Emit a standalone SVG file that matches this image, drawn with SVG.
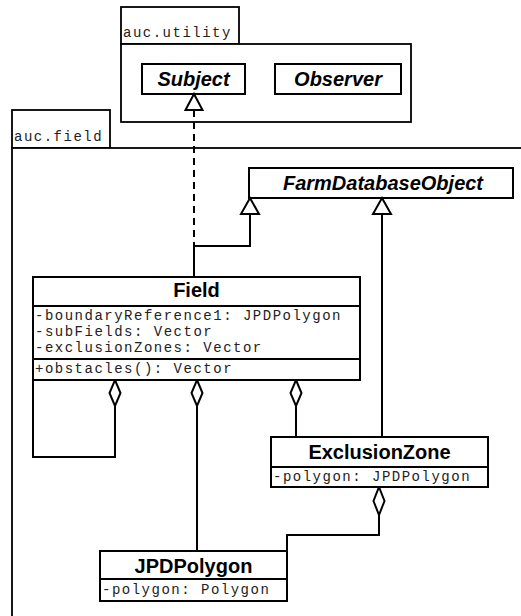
<svg xmlns="http://www.w3.org/2000/svg" width="521" height="616" viewBox="0 0 521 616">
<style>
.box{fill:#fff;stroke:#000;stroke-width:2}
.pkg{fill:#fff;stroke:#000;stroke-width:1.8}
.ln{fill:none;stroke:#000;stroke-width:2}
.dash{fill:none;stroke:#000;stroke-width:2;stroke-dasharray:7 5}
.head{fill:#fff;stroke:#000;stroke-width:2;stroke-linejoin:miter}
.mono{font-family:"Liberation Mono","Courier New",monospace;font-size:14px;letter-spacing:1.5px;fill:#222}
.name{font-family:"Liberation Sans",Arial,sans-serif;font-size:20px;font-weight:bold;fill:#000;text-anchor:middle}
.abs{font-style:italic}
</style>
<rect width="521" height="616" fill="#fff"/>
<g id="pkg-utility">
<rect class="pkg" x="121" y="7" width="118" height="37"/>
<rect class="pkg" x="121" y="44" width="290" height="78"/>
<text class="mono" x="123" y="37">auc.utility</text>
</g>
<g id="pkg-field">
<rect class="pkg" x="12" y="110" width="98" height="38"/>
<rect class="pkg" x="12" y="148" width="520" height="480"/>
<text class="mono" x="14" y="141">auc.field</text>
</g>
<g id="Subject">
<rect class="box" x="142" y="64" width="103" height="30"/>
<text class="name abs" x="193.5" y="86">Subject</text>
</g>
<g id="Observer">
<rect class="box" x="275" y="64" width="126" height="30"/>
<text class="name abs" x="338" y="86">Observer</text>
</g>
<g id="FarmDatabaseObject">
<rect class="box" x="249" y="168" width="264" height="30"/>
<text class="name abs" x="383" y="190">FarmDatabaseObject</text>
</g>
<g id="connectors">
<path class="dash" d="M194,110 V246"/>
<path class="ln" d="M250,214 V246 H194 V277"/>
<path class="ln" d="M382,214 V437"/>
<path class="ln" d="M115,406 V457 H33 V380"/>
<path class="ln" d="M197,406 V551"/>
<path class="ln" d="M296,406 V437"/>
<path class="ln" d="M379,515 V535 H287 V551"/>
<polygon class="head" points="194,94 202.5,110 185.5,110"/>
<polygon class="head" points="250,198 259,214 241,214"/>
<polygon class="head" points="382,198 391,214 373,214"/>
<polygon class="head" points="115,380 120.5,393 115,406 109.5,393"/>
<polygon class="head" points="197,380 202.5,393 197,406 191.5,393"/>
<polygon class="head" points="296,380 301.5,393 296,406 290.5,393"/>
<polygon class="head" points="379,487 384.5,501 379,515 373.5,501"/>
</g>
<g id="Field">
<rect class="box" x="33" y="277" width="327" height="103"/>
<path class="ln" d="M33,306 H360 M33,359 H360"/>
<text class="name" x="196.5" y="297">Field</text>
<text class="mono" x="35" y="320">-boundaryReference1: JPDPolygon</text>
<text class="mono" x="35" y="336">-subFields: Vector</text>
<text class="mono" x="35" y="352">-exclusionZones: Vector</text>
<text class="mono" x="35" y="373">+obstacles(): Vector</text>
</g>
<g id="ExclusionZone">
<rect class="box" x="271" y="437" width="217" height="50"/>
<path class="ln" d="M271,467 H488"/>
<text class="name" x="379.5" y="459">ExclusionZone</text>
<text class="mono" x="273" y="481">-polygon: JPDPolygon</text>
</g>
<g id="JPDPolygon">
<rect class="box" x="100" y="551" width="187" height="50"/>
<path class="ln" d="M100,579 H287"/>
<text class="name" x="193.5" y="573">JPDPolygon</text>
<text class="mono" x="102" y="594">-polygon: Polygon</text>
</g>
</svg>
